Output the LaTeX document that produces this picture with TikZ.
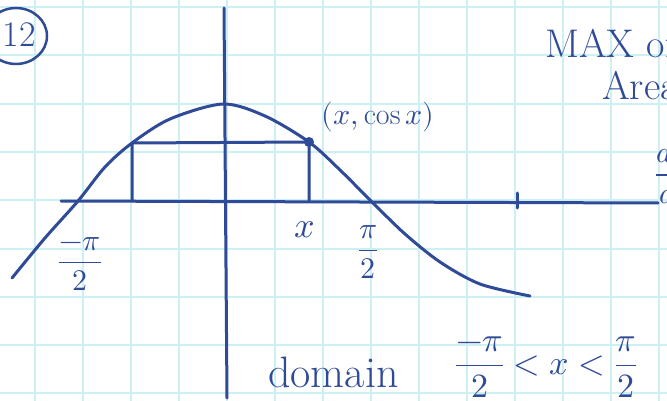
\documentclass[tikz,border=0pt]{standalone}
\usepackage{amsmath}
\usepackage{unicode-math}
\usepackage{tikz}
\usetikzlibrary{positioning}
\definecolor{InkBlue}{HTML}{2F4B98}
\definecolor{PaperGrid}{HTML}{CBF1F5}

\begin{document}
\begin{tikzpicture}[
    x=1pt, y=-1pt,
    ink/.style={draw=InkBlue, line width=3pt, line cap=round, line join=round},
    paper/.style={draw=PaperGrid, line width=2pt},
    hand/.style={text=InkBlue, inner sep=0pt, font=\fontsize{#1}{#1}\selectfont},
    hand/.default=30
  ]
  \useasboundingbox (0,0) rectangle (667,401);
  \clip (0,0) rectangle (667,401);
  \fill[white] (0,0) rectangle (667,401);

  % Grid paper
  \foreach \gx in {35,83,...,667}
    \draw[paper] (\gx,0) -- (\gx,401);
  \foreach \gy in {7,55.3,...,401}
    \draw[paper] (0,\gy) -- (667,\gy);

  % Axes
  \coordinate (xl) at (61,201);
  \coordinate (xr) at (658,203);
  \coordinate (yt) at (224,8);
  \coordinate (yb) at (227,398);
  \draw[ink] (xl) -- (xr);
  \draw[ink] (yt) -- (yb);
  \draw[ink] (517,193) -- (517,208);

  % Curve y = cos x
  \draw[ink] plot[smooth] coordinates {
    (12,278) (45,238) (78,201) (105,167) (132,143) (170,119)
    (223,104) (265,116) (309,142) (340,170) (372,202) (405,234)
    (440,262) (480,284) (530,296)};

  % Rectangle under the curve
  \coordinate (pt) at (309,142);
  \coordinate (ql) at (132,143);
  \draw[ink] (ql |- xl) -- (ql) -- (pt) -- (pt |- xl);
  \fill[InkBlue] (pt) circle (5);

  % Labels
  \node[hand=30] (ptlabel) at (378,117) {$(x,\cos x)$};
  \node[hand=36] (xlabel) at (305,230) {$x$};
  \node[hand=30] (halfpi) at (368,252) {$\dfrac{\pi}{2}$};
  \node[hand=30] (neghalfpi) at (80,264) {$\dfrac{-\pi}{2}$};

  % Problem number
  \node[hand=36] (num) at (19,35) {12};
  \draw[InkBlue, line width=2.5pt] (16,36) ellipse (31 and 28);

  % Right margin notes
  \node[hand=40, anchor=base west] (maxof) at (545,58) {MAX of};
  \node[hand=40, anchor=base west] (area) at (602,100) {Area};
  \node[hand=30, anchor=west] (deriv) at (655,172) {$\dfrac{dA}{dx}$};

  % Domain
  \node[hand=44, anchor=base west] (domain) at (268,387) {domain};
  \node[hand=34, anchor=west] (range) at (455,367)
    {$\dfrac{-\pi}{2} < x < \dfrac{\pi}{2}$};

\end{tikzpicture}
\end{document}
